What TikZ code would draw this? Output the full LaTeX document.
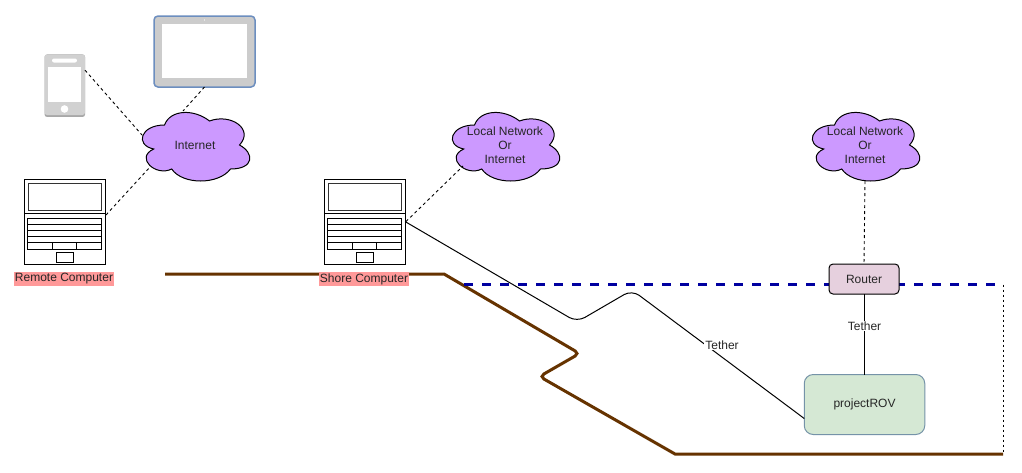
\documentclass[tikz,border=0pt]{standalone}
\usepackage{fontspec}
\setmainfont{Liberation Sans}
\usetikzlibrary{calc}
\definecolor{cloudfill}{HTML}{CC99FF}
\definecolor{brownline}{HTML}{663300}
\definecolor{blueline}{HTML}{0000A0}
\definecolor{devgray}{HTML}{CCCCCC}
\definecolor{devdark}{HTML}{A8A8A8}
\definecolor{tabedge}{HTML}{6C8EBF}
\definecolor{pcl}{HTML}{FF9999}
\definecolor{routerfill}{HTML}{E6D0DE}
\definecolor{rovfill}{HTML}{D5E8D4}
\definecolor{rovedge}{HTML}{7593A8}
\tikzset{
  x=1pt,y=-1pt,
  every node/.style={font=\fontsize{12}{14}\selectfont,text=black!85,inner sep=0pt,outer sep=0pt},
  thinline/.style={draw=black,line width=1pt},
  netlink/.style={draw=black,line width=0.9pt,dash pattern=on 3pt off 3pt},
  cloudtext/.style={minimum width=120pt,minimum height=80pt,align=center},
  cloudline/.style={draw=black,line width=1pt,fill=cloudfill},
  laptopbox/.style={draw=black,line width=1pt,fill=white,minimum width=81pt,minimum height=85pt},
  computerlabel/.style={fill=pcl,minimum height=14pt,inner xsep=1pt},
  tetherlabel/.style={fill=white,inner ysep=1pt,inner xsep=1pt},
  brownpath/.style={draw=brownline,line width=3pt},
  bluepath/.style={draw=blueline,line width=3pt,dash pattern=on 9pt off 9pt},
}
% #1 name, #2 left, #3 top, #4 text
\newcommand{\cloudnode}[4]{%
  \begin{scope}[shift={(#2-0.5,#3)},x=1.2pt,y=-0.8pt]
    \path[cloudline] (25,25)
      .. controls (5,25) and (0,50) .. (16,55)
      .. controls (0,66) and (18,90) .. (31,80)
      .. controls (40,100) and (70,100) .. (80,80)
      .. controls (100,80) and (100,60) .. (87.5,50)
      .. controls (100,30) and (80,10) .. (62.5,20)
      .. controls (50,5) and (30,5) .. (25,25) -- cycle;
  \end{scope}
  \node[cloudtext] (#1) at (#2+60,#3+40) {#4};
}
% #1 name, #2 centre x, #3 centre y
\newcommand{\laptopnode}[3]{%
  \node[laptopbox] (#1) at (#2,#3) {};
  \begin{scope}[shift={(#2-40.5,#3-42.5)},line width=1pt]
    \draw[draw=black!80] (4,4) rectangle (77,31);
    \draw (0,34) -- (81,34);
    \draw (3,39) rectangle (77.5,70);
    \draw (3,45) -- (77.5,45) (3,51) -- (77.5,51) (3,57.5) -- (77.5,57.5) (3,63.5) -- (77.5,63.5);
    \draw (28,63.5) -- (28,70) (52,63.5) -- (52,70);
    \draw (32,73) rectangle (49,83);
  \end{scope}
}
\begin{document}
\begin{tikzpicture}
\useasboundingbox (0,0) rectangle (1022,472);
\fill[white] (0,0) rectangle (1022,472);

% boundary lines
\coordinate (b1) at (165,274);
\coordinate (b2) at (444,274);
\coordinate (b3) at (579.5,353.5);
\coordinate (b4) at (539.5,376.5);
\coordinate (b5) at (675,454);
\coordinate (b6) at (1003,454);
\coordinate (w1) at (464,284.5);
\coordinate (w2) at (1003,284.5);
\path[brownpath] (b1) -- (b2) -- (b2) [rounded corners=5pt] -- (b3) -- (b4) [sharp corners] -- (b5) -- (b6);
\path[bluepath] (w1) -- (w2);
\draw[black,line width=1pt,dash pattern=on 2.5pt off 2.5pt] (w2) -- (b6);

% tablet
\node[draw=tabedge,line width=1.5pt,fill=devgray,rounded corners=4pt,minimum width=101pt,minimum height=71pt] (tablet) at (204.5,51.5) {};
\fill[white] (162,24) rectangle (247,78);
\fill[white] (204.5,20) circle (0.7);

% phone
\node[fill=devdark,rounded corners=2.5pt,minimum width=40.5pt,minimum height=62.5pt] (phone) at (64.8,85.7) {};
\fill[devgray!90!white,rounded corners=2.5pt] (44.6,54.5) rectangle (85,115);
\fill[white,rounded corners=2pt] (52,58.5) rectangle (77,62.5);
\fill[white] (48.3,67) rectangle (81,102);
\fill[white] (64.5,109) circle (3.8);

% clouds
\cloudnode{inet}{135}{105}{Internet}
\cloudnode{localA}{445}{105}{Local Network\\Or\\Internet}
\cloudnode{localB}{805}{105}{Local Network\\Or\\Internet}

% computers
\laptopnode{remote}{64.5}{221.5}
\laptopnode{shore}{364.5}{221.5}
\node[computerlabel] (remotelabel) at (64,279) {Remote Computer};
\node[computerlabel] (shorelabel) at (364,279) {Shore Computer};

% ROV and router
\node[draw=rovedge,line width=1pt,fill=rovfill,rounded corners=9pt,minimum width=120.5pt,minimum height=60pt] (rov) at (864.5,404.5) {projectROV};
\node[draw=black,line width=1pt,fill=routerfill,rounded corners=4pt,minimum width=70pt,minimum height=30pt] (router) at (864,279) {Router};

% network links
\draw[netlink] ([yshift=15.5]phone.east) -- ($(inet.center)+(-53,-10)$);
\draw[netlink] (tablet.south) -- ($(inet.center)+(-12,-34)$);
\draw[netlink] ([xshift=1,yshift=6.5]remote.east) -- ($(inet.center)+(-45,22)$);
\draw[netlink] ([xshift=1]shore.east) -- ($(localA.center)+(-42,21)$);
\draw[netlink] ($(localB.center)+(0,36)$) -- (router.north);

% tethers
\draw[thinline,rounded corners=9pt] (shore.east) -- (577,322) -- (632,290) -- ([yshift=-14]rov.west);
\draw[thinline] (router.south) -- (rov.north -| router.south);
\node[tetherlabel] (tetherA) at (722,345) {Tether};
\node[tetherlabel] (tetherB) at (864.5,326) {Tether};
\end{tikzpicture}
\end{document}
